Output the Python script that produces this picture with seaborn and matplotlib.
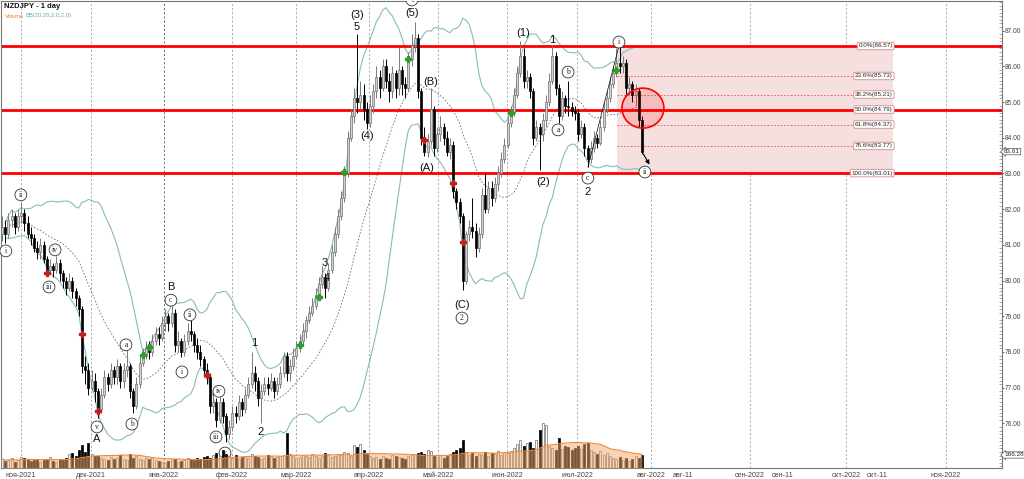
import numpy as np
import pandas as pd
import matplotlib
matplotlib.use("Agg")
import matplotlib.pyplot as plt
from matplotlib.patches import Rectangle, Ellipse
from matplotlib.ticker import MultipleLocator, FormatStrFormatter
import seaborn as sns

sns.set_theme(style="white")
plt.rcParams["font.family"] = ["Liberation Sans", "DejaVu Sans"]

# ---- data: NZDJPY daily, late Oct 2021 .. late Jul 2022 -----------------------
first_open = 81.3
closes = [
    81.5, 81.3, 81.7, 81.8, 81.5, 81.8, 81.9, 81.6, 81.3, 81.2,
    80.9, 80.8, 81.0, 80.6, 80.3, 80.4, 80.3, 80.5, 80.2, 80.0,
    79.8, 80.0, 79.7, 79.5, 79.2, 77.6, 77.5, 77.0, 77.2, 76.9,
    76.4, 76.8, 77.3, 77.1, 77.5, 77.3, 77.6, 77.2, 77.5, 77.6,
    76.9, 76.5, 77.1, 77.7, 77.9, 78.1, 78.0, 78.3, 78.5, 78.4,
    78.8, 79.0, 78.8, 79.1, 78.2, 78.3, 78.0, 78.3, 78.6, 78.5,
    78.2, 78.0, 77.8, 77.5, 77.3, 76.5, 76.6, 76.1, 76.6, 76.2,
    75.7, 75.9, 76.3, 76.2, 76.6, 76.4, 76.8, 77.1, 77.4, 77.2,
    76.7, 76.9, 77.1, 77.0, 77.2, 76.9, 77.1, 77.4, 77.9, 77.4,
    77.6, 77.9, 78.1, 78.3, 78.6, 78.9, 79.1, 79.3, 79.6, 79.9,
    80.1, 79.8, 80.3, 80.8, 81.3, 81.8, 82.3, 83.0, 84.0, 84.6,
    85.1, 85.0, 85.2, 84.8, 84.4, 84.9, 85.3, 85.7, 85.4, 86.0,
    85.6, 85.3, 85.8, 85.4, 85.9, 85.5, 85.4, 86.2, 86.6, 86.8,
    85.3, 84.0, 83.6, 83.9, 84.8, 83.7, 84.1, 84.3, 84.0, 83.6,
    83.8, 82.5, 82.2, 81.8, 80.0, 81.3, 81.5, 81.4, 80.9, 81.3,
    82.4, 82.0, 82.6, 82.3, 82.7, 83.0, 83.4, 83.8, 84.4, 84.7,
    85.2, 85.8, 86.3, 85.6, 85.7, 85.3, 84.0, 84.3, 84.1, 84.5,
    85.0, 85.6, 86.3, 85.4, 84.6, 85.1, 84.9, 84.85, 84.75, 84.7,
    84.1, 84.3, 83.7, 83.4, 83.7, 84.0, 83.85, 84.3, 84.8, 85.1,
    85.5, 85.8, 86.1, 86.0, 86.1, 85.4, 85.5, 85.2, 85.3, 84.5,
    83.61,
]
highs = [
    81.8, 81.7, 81.9, 82.0, 81.9, 82.0, 82.2, 82.0, 81.8, 81.5,
    81.3, 81.1, 81.2, 81.1, 80.7, 80.6, 80.5, 80.7, 80.6, 80.3,
    80.1, 80.2, 80.1, 79.8, 79.6, 79.3, 77.9, 77.7, 77.5, 77.4,
    77.0, 77.0, 77.5, 77.4, 77.7, 77.6, 77.8, 77.7, 77.7, 78.05,
    77.7, 77.0, 77.3, 77.9, 78.1, 78.3, 78.3, 78.5, 78.7, 78.7,
    79.0, 79.2, 79.1, 79.3, 79.2, 78.6, 78.4, 78.5, 78.8, 78.9,
    78.6, 78.4, 78.2, 77.9, 77.7, 77.4, 76.9, 76.7, 76.9, 76.7,
    76.3, 76.1, 76.5, 76.5, 76.8, 76.7, 77.0, 77.3, 78.0, 77.6,
    77.3, 77.1, 77.3, 77.3, 77.4, 77.3, 77.3, 77.6, 78.0, 78.0,
    77.8, 78.1, 78.3, 78.5, 78.8, 79.0, 79.3, 79.5, 79.8, 80.1,
    80.4, 80.2, 80.5, 81.0, 81.5, 82.0, 82.5, 83.2, 84.2, 84.8,
    85.4, 86.9, 85.6, 85.5, 85.0, 85.2, 85.5, 86.0, 85.9, 86.2,
    86.2, 85.8, 86.0, 85.9, 86.55, 86.0, 85.7, 86.4, 86.9, 87.25,
    86.9, 85.4, 84.3, 84.1, 85.4, 84.9, 84.3, 84.6, 84.4, 84.2,
    84.0, 83.9, 82.6, 82.3, 81.9, 81.4, 81.7, 82.3, 81.6, 81.5,
    82.6, 83.0, 82.8, 82.8, 82.9, 83.2, 83.6, 84.0, 84.6, 84.9,
    85.4, 86.0, 86.7, 86.5, 85.9, 85.8, 85.4, 84.5, 84.4, 84.7,
    85.2, 85.8, 86.6, 86.4, 85.5, 85.3, 85.2, 85.6, 85.0, 84.9,
    84.8, 84.5, 84.4, 83.8, 83.9, 84.2, 84.1, 84.5, 85.0, 85.3,
    85.7, 86.0, 86.5, 86.57, 86.3, 86.2, 85.7, 85.6, 85.5, 85.4,
    84.6,
]
lows = [
    81.1, 81.05, 81.2, 81.5, 81.3, 81.4, 81.6, 81.4, 81.2, 81.0,
    80.8, 80.6, 80.6, 80.5, 80.15, 80.2, 80.1, 80.2, 80.0, 79.8,
    79.6, 79.7, 79.5, 79.3, 79.0, 77.4, 77.1, 76.8, 76.9, 76.6,
    76.15, 76.3, 76.7, 76.9, 77.0, 77.1, 77.1, 77.0, 77.0, 77.3,
    76.7, 76.3, 76.4, 77.0, 77.6, 77.8, 77.8, 77.9, 78.2, 78.2,
    78.3, 78.6, 78.6, 78.7, 78.0, 78.0, 77.85, 77.9, 78.2, 78.3,
    78.0, 77.8, 77.6, 77.3, 77.1, 76.3, 76.3, 75.9, 76.0, 76.0,
    75.48, 75.55, 75.8, 76.0, 76.1, 76.2, 76.3, 76.7, 77.0, 76.9,
    76.5, 76.0, 76.8, 76.8, 76.9, 76.7, 76.8, 77.0, 77.3, 77.2,
    77.2, 77.5, 77.8, 78.0, 78.2, 78.4, 78.8, 79.0, 79.2, 79.5,
    79.8, 79.5, 79.7, 80.2, 80.7, 81.2, 81.7, 82.2, 82.9, 83.9,
    84.4, 84.7, 84.8, 84.5, 84.25, 84.3, 84.7, 85.1, 85.1, 85.3,
    85.4, 85.0, 85.1, 85.1, 85.2, 85.2, 85.1, 85.3, 86.0, 86.4,
    85.1, 83.8, 83.5, 83.45, 83.8, 83.5, 83.6, 83.9, 83.8, 83.5,
    83.4, 82.3, 82.0, 81.6, 79.74, 79.9, 81.1, 81.2, 80.65, 80.8,
    81.2, 81.9, 81.9, 82.1, 82.2, 82.5, 82.9, 83.3, 83.7, 84.3,
    84.6, 85.1, 85.7, 85.4, 85.4, 85.1, 83.8, 83.9, 83.1, 83.9,
    84.3, 84.9, 85.5, 85.2, 84.4, 84.5, 84.7, 84.6, 84.6, 84.5,
    83.9, 84.0, 83.5, 83.18, 83.3, 83.6, 83.7, 83.8, 84.2, 84.7,
    85.0, 85.4, 85.7, 85.8, 85.8, 85.2, 85.2, 85.0, 84.9, 84.3,
    83.55,
]
volumes = [
    115, 90, 102, 128, 77, 102, 141, 128, 115, 90,
    102, 115, 77, 102, 115, 141, 90, 77, 115, 102,
    128, 179, 192, 154, 230, 294, 205, 320, 179, 154,
    154, 128, 115, 102, 141, 115, 128, 166, 115, 102,
    179, 128, 154, 115, 102, 128, 115, 141, 102, 90,
    77, 64, 90, 102, 115, 77, 90, 102, 128, 115,
    102, 128, 115, 141, 154, 128, 166, 192, 154, 230,
    179, 154, 128, 166, 115, 141, 154, 128, 179, 154,
    141, 115, 128, 166, 154, 128, 141, 154, 166, 448,
    179, 154, 128, 141, 166, 154, 141, 179, 154, 128,
    154, 192, 166, 141, 154, 179, 166, 205, 192, 154,
    294, 269, 307, 230, 179, 154, 128, 141, 115, 154,
    128, 115, 166, 154, 141, 128, 115, 154, 166, 179,
    192, 205, 179, 230, 218, 154, 141, 166, 128, 154,
    179, 205, 230, 256, 358, 205, 166, 192, 154, 179,
    166, 205, 154, 192, 179, 218, 166, 205, 192, 218,
    256, 307, 358, 282, 320, 333, 256, 358, 486, 576,
    550, 282, 256, 230, 384, 243, 282, 269, 230, 256,
    282, 243, 307, 320, 230, 205, 179, 218, 166, 192,
    154, 128, 115, 141, 102, 128, 90, 115, 154, 128,
    166.28,
]

# month axis (bar-index positions)
month_labels = ["ноя-2021", "дек-2021", "янв-2022", "фев-2022", "мар-2022", "апр-2022",
                "май-2022", "июн-2022", "июл-2022", "авг-2022", "авг-11", "сен-2022",
                "сен-11", "окт-2022", "окт-11", "ноя-2022"]
month_pos = [5.9, 27.8, 50.6, 71.9, 91.9, 114.7, 136.3, 157.8, 179.7, 202.8,
             212.8, 233.8, 243.8, 263.8, 273.4, 295.0]

# key levels and fibonacci retracement
key_levels = [86.57, 84.79, 83.01]
fib_names = ["0.0%", "23.6%", "38.2%", "50.0%", "61.8%", "78.6%", "100.0%"]
fib_values = [86.57, 85.73, 85.21, 84.79, 84.37, 83.77, 83.01]
fib_start, fib_end = 192.2, 278.4

# signal markers
green_x = [44, 46, 93, 99, 107, 127, 159, 192]
green_y = [77.91, 78.14, 78.2, 79.54, 83.04, 86.21, 84.69, 85.9]
red_x = [14, 25, 30, 64, 132, 141, 144]
red_y = [80.21, 78.5, 76.35, 77.35, 83.94, 82.73, 81.08]

# wave labels
plain_text = ["A", "B", "1", "2", "3", "4", "(3)", "5", "(4)", "(5)", "(A)", "(B)",
              "(C)", "(1)", "(2)", "1", "2"]
plain_x = [29.7, 52.8, 78.75, 80.9, 100.9, 101.6, 110.9, 110.9, 114, 128.1, 132.8, 134,
           143.75, 162.8, 169, 171.9, 183.1]
plain_y = [75.56, 79.82, 78.25, 75.76, 80.49, 80.07, 87.44, 87.1, 84.05, 87.5, 83.15, 85.56,
           79.32, 86.93, 82.76, 86.74, 82.48]
circ_text = ["i", "ii", "iii", "iv", "v", "a", "b", "c", "i", "ii", "iii", "iv", "v",
             "1", "2", "a", "b", "c", "i", "ii"]
circ_x = [1.2, 5.9, 14.7, 16.6, 29.7, 38.75, 40.6, 52.8, 56.25, 58.75, 66.9, 67.8, 69.7,
          128.1, 143.75, 173.75, 176.9, 183.1, 192.8, 200.9]
circ_y = [80.83, 82.4, 79.82, 80.86, 75.9, 78.2, 75.98, 79.45, 77.44, 79.04, 75.62, 76.9, 75.17,
          87.86, 78.95, 84.22, 85.84, 82.87, 86.68, 83.04]

# ---- frame -----------------------------------------------------------------------
df = pd.DataFrame({"close": closes, "high": highs, "low": lows, "volume": volumes})
df["bar"] = np.arange(len(df))
df["open"] = [first_open] + closes[:-1]
mid = df["close"].rolling(20, min_periods=2).mean()
sd = df["close"].rolling(20, min_periods=2).std(ddof=0)
df["bb_mid"] = mid
df["bb_up"] = mid + 2 * sd
df["bb_lo"] = mid - 2 * sd
df["vol_ma"] = df["volume"].rolling(20, min_periods=1).mean()
up = (df["close"] >= df["open"]).to_numpy()

fig = plt.figure(figsize=(10.24, 4.79), dpi=100)
ax = fig.add_axes([1 / 1024, 11 / 479, 1001 / 1024, 467 / 479])
ax.set_xlim(-0.3, 312.5)
ax.set_ylim(74.75, 87.83)

# month gridlines
for lab, p in zip(month_labels, month_pos):
    if "-11" in lab:
        continue
    ax.axvline(p, color="#555555" if lab == "янв-2022" else "#a0a0a0",
               lw=0.6, ls=(0, (2.5, 2.5)), zorder=0)

# fibonacci box
ax.add_patch(Rectangle((fib_start, fib_values[-1]), fib_end - fib_start,
                       fib_values[0] - fib_values[-1], fc="#f5dfdf", ec="none", zorder=0.5))
ax.hlines(fib_values[1:-1], fib_start, fib_end, colors="#e05050", lw=0.6,
          linestyles=(0, (2, 2)), zorder=0.6)

# bollinger bands
sns.lineplot(data=df, x="bar", y="bb_up", ax=ax, color="#86bcbc", lw=0.8, zorder=1)
sns.lineplot(data=df, x="bar", y="bb_lo", ax=ax, color="#86bcbc", lw=0.8, zorder=1)
sns.lineplot(data=df, x="bar", y="bb_mid", ax=ax, color="#707070", lw=0.6,
             dashes=(2, 2), zorder=1)

# key levels
for lv in key_levels:
    ax.axhline(lv, color="#ff0000", lw=2.0, zorder=2)

# candles
ax.vlines(df["bar"], df["low"], df["high"], colors=np.where(up, "#7a7a7a", "black"),
          lw=0.7, zorder=3)
body = (df["close"] - df["open"]).abs().clip(lower=0.04)
ax.bar(df["bar"], body, bottom=df[["open", "close"]].min(axis=1), width=0.62,
       color=np.where(up, "#d2d2d2", "black"), edgecolor=np.where(up, "#707070", "black"),
       linewidth=0.5, zorder=4)

# signals
ax.plot(green_x, green_y, ls="none", marker="P", ms=4.5, color="#2c9c2c", zorder=5)
ax.plot(red_x, red_y, ls="none", marker="P", ms=4.5, color="#c02020", zorder=5)

# projection: zigzag, circle, arrow
ax.plot([circ_x[17], circ_x[18]], [lows[183], highs[193]], color="black", lw=0.5, zorder=5)
ax.add_patch(Ellipse((200.3, 84.83), 13.1, 1.12, fc=(1, 0, 0, 0.15), ec="#ff0000",
                     lw=1.2, zorder=6))
ax.annotate("", xy=(202.8, 83.18), xytext=(200, closes[-1]),
            arrowprops=dict(arrowstyle="-|>", color="black", lw=0.8, mutation_scale=6),
            zorder=7)

# wave labels
for t, x, y in zip(plain_text, plain_x, plain_y):
    ax.text(x, y, t, fontsize=8, ha="center", va="center", color="#111111", zorder=8)
for t, x, y in zip(circ_text, circ_x, circ_y):
    ax.text(x, y, t, fontsize=5.5, ha="center", va="center", family="Liberation Serif",
            zorder=8, clip_on=(y > 87.5),
            bbox=dict(boxstyle="circle,pad=0.25", fc="white", ec="#333333", lw=0.6))

# fib labels
for n, v in zip(fib_names, fib_values):
    ax.text(fib_end, v, f"{n}({v:.2f})", fontsize=4.5, ha="right", va="center", zorder=8,
            bbox=dict(boxstyle="round,pad=0.2", fc="white", ec="#d08a8a", lw=0.6))

ax.set_xticks(month_pos)
ax.set_xticklabels(month_labels)
ax.tick_params(axis="x", labelsize=5.2, length=2, width=0.6, pad=1, colors="#444444")
ax.set_xlabel("")
ax.set_ylabel("")
for s in ax.spines.values():
    s.set_color("#777777")
    s.set_linewidth(0.8)

# volume panel
ax2 = ax.twinx()
ax2.set_ylim(0, 5965)
ax2.bar(df["bar"], df["volume"], width=0.62, color=np.where(up, "white", "black"),
        edgecolor=np.where(up, "#707070", "black"), linewidth=0.5, zorder=2)
ax2.fill_between(df["bar"], 0, df["vol_ma"], color="#f3a868", alpha=0.5, lw=0, zorder=3)
sns.lineplot(data=df, x="bar", y="vol_ma", ax=ax2, color="#f08a3c", lw=0.8, zorder=4)
ax2.set_ylabel("")
ax2.yaxis.set_visible(False)
for s in ax2.spines.values():
    s.set_visible(False)

# price scale on the right (after twinx, which moves ticks to the left)
ax.yaxis.tick_right()
ax.set_yticks(np.arange(76, 88, 1.0))
ax.yaxis.set_major_formatter(FormatStrFormatter("%.2f"))
ax.yaxis.set_minor_locator(MultipleLocator(0.1))
ax.tick_params(axis="y", which="major", labelsize=4.8, length=1.5, width=0.6, pad=0.5,
               colors="#444444", direction="out", left=False, right=True,
               labelleft=False, labelright=True)
ax.tick_params(axis="y", which="minor", length=2, width=0.4, color="#666666",
               direction="in", left=False, right=True)

ax.annotate(f"{closes[-1]:.2f}", xy=(1.0, closes[-1]), xycoords=ax.get_yaxis_transform(),
            xytext=(1.5, 0), textcoords="offset points", fontsize=4.6, va="center",
            annotation_clip=False,
            bbox=dict(boxstyle="larrow,pad=0.1", fc="white", ec="#555555", lw=0.5))
ax2.annotate(f"{volumes[-1]:.2f}", xy=(1.0, volumes[-1]), xycoords=ax2.get_yaxis_transform(),
             xytext=(1.5, 0), textcoords="offset points", fontsize=4.6, va="center",
             annotation_clip=False,
             bbox=dict(boxstyle="larrow,pad=0.1", fc="white", ec="#555555", lw=0.5))

# header
fig.text(4 / 1024, 1 - 6 / 479, "NZDJPY - 1 day", fontsize=5.5, fontweight="bold",
         va="center", color="#111111")
fig.text(5 / 1024, 1 - 16 / 479, "Volume", fontsize=4.2, va="center", color="#e8883a")
fig.text(25 / 1024, 1 - 16 / 479, "BB(20,20,2.0,2.0)", fontsize=4.2, va="center",
         color="#6aa8a8")

fig.savefig("out.png", dpi=100)
